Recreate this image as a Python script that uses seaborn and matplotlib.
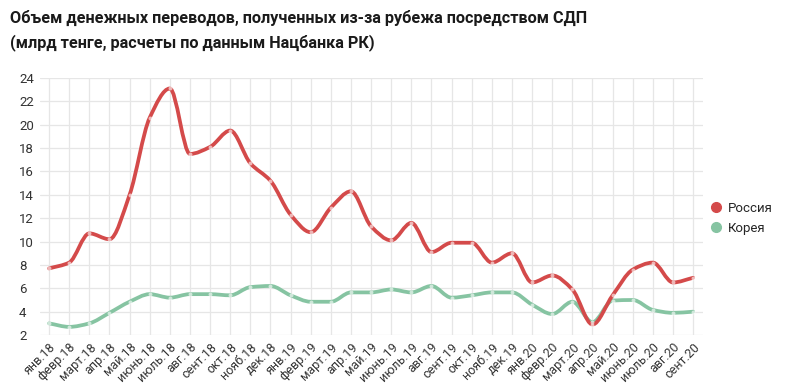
import numpy as np
import pandas as pd
import matplotlib
matplotlib.use("Agg")
import matplotlib.pyplot as plt
from matplotlib.path import Path
from matplotlib.patches import PathPatch
import seaborn as sns

months = ["янв.18", "февр.18", "март.18", "апр.18", "май.18", "июнь.18", "июль.18", "авг.18",
          "сент.18", "окт.18", "нояб.18", "дек.18", "янв.19", "февр.19", "март.19", "апр.19",
          "май.19", "июнь.19", "июль.19", "авг.19", "сент.19", "окт.19", "нояб.19", "дек.19",
          "янв.20", "февр.20", "март.20", "апр.20", "май.20", "июнь.20", "июль.20", "авг.20", "сент.20"]
russia = [7.7, 8.2, 10.7, 10.2, 14.0, 20.6, 23.1, 17.5, 18.1, 19.5, 16.7, 15.2,
          12.3, 10.8, 12.9, 14.3, 11.3, 10.1, 11.6, 9.1, 9.9, 9.9, 8.2, 9.0,
          6.5, 7.1, 5.9, 2.9, 5.4, 7.6, 8.2, 6.5, 6.9]
korea = [3.0, 2.7, 3.0, 3.9, 4.85, 5.5, 5.2, 5.5, 5.5, 5.4, 6.1, 6.2,
         5.4, 4.85, 4.85, 5.65, 5.65, 5.9, 5.65, 6.2, 5.2, 5.4, 5.65, 5.65,
         4.6, 3.8, 4.85, 3.1, 4.95, 5.0, 4.15, 3.9, 4.0]
series_names = ["Россия", "Корея"]
colors = ["#d44a4a", "#86c4a2"]
yticks = list(range(2, 25, 2))
title = "Объем денежных переводов, полученных из-за рубежа посредством СДП\n(млрд тенге, расчеты по данным Нацбанка РК)"

sns.set_theme(style="white")
plt.rcParams["font.family"] = ["Roboto", "DejaVu Sans"]

df = pd.DataFrame({"month": months * 2,
                   "x": list(range(len(months))) * 2,
                   "value": russia + korea,
                   "series": [series_names[0]] * len(months) + [series_names[1]] * len(months)})

fig = plt.figure(figsize=(8, 3.86), dpi=100)
ax = fig.add_axes([0.05, 0.132, 0.829, 0.666])


def monotone_path(xs, ys):
    xs = np.asarray(xs, float)
    ys = np.asarray(ys, float)
    n = len(xs)
    h = np.diff(xs)
    d = np.diff(ys) / h
    m = np.zeros(n)
    m[0] = d[0]
    m[-1] = d[-1]
    for i in range(1, n - 1):
        if d[i - 1] * d[i] <= 0:
            m[i] = 0
        else:
            w1 = 2 * h[i] + h[i - 1]
            w2 = h[i] + 2 * h[i - 1]
            m[i] = (w1 + w2) / (w1 / d[i - 1] + w2 / d[i])
    verts = [(xs[0], ys[0])]
    codes = [Path.MOVETO]
    for i in range(n - 1):
        dx = h[i] / 3
        verts += [(xs[i] + dx, ys[i] + m[i] * dx),
                  (xs[i + 1] - dx, ys[i + 1] - m[i + 1] * dx),
                  (xs[i + 1], ys[i + 1])]
        codes += [Path.CURVE4] * 3
    return Path(verts, codes)


for name, col in zip(series_names[::-1], colors[::-1]):
    sub = df[df.series == name]
    p = monotone_path(sub["x"], sub["value"])
    ax.add_patch(PathPatch(p, facecolor="none", edgecolor=col, lw=2.7,
                           capstyle="round", joinstyle="round", zorder=3))
    sns.scatterplot(data=sub, x="x", y="value", ax=ax, color="white", alpha=0.6,
                    s=8, linewidth=0, zorder=4, legend=False)

ax.set_xlim(-0.45, len(months) - 0.5)
ax.set_ylim(2, 24)
ax.set_yticks(yticks)
ax.set_yticklabels([str(v) for v in yticks], fontsize=9.5, color="#333333")
ax.set_xticks(range(len(months)))
ax.set_xticklabels(months, rotation=45, ha="right", rotation_mode="anchor",
                   fontsize=9, color="#333333")
ax.tick_params(axis="x", length=0, pad=4)
ax.tick_params(axis="y", length=0, pad=15)
for lbl in ax.get_yticklabels():
    lbl.set_horizontalalignment("left")
ax.grid(True, color="#e6e6e6", lw=0.9)
ax.set_axisbelow(True)
for s in ax.spines.values():
    s.set_visible(False)
ax.set_xlabel("")
ax.set_ylabel("")

handles = [plt.Line2D([], [], marker="o", ls="", color=c, markersize=7) for c in colors]
fig.legend(handles, series_names, loc="center left", bbox_to_anchor=(0.874, 0.434),
           frameon=False, fontsize=9.5, handletextpad=0.45, labelspacing=0.55,
           handlelength=0.8)

fig.text(0.013, 0.975, title, fontsize=11.7, fontweight="bold", color="#1a1a1a",
         va="top", ha="left", linespacing=1.6)

fig.savefig("out.png", dpi=100, facecolor="white")
